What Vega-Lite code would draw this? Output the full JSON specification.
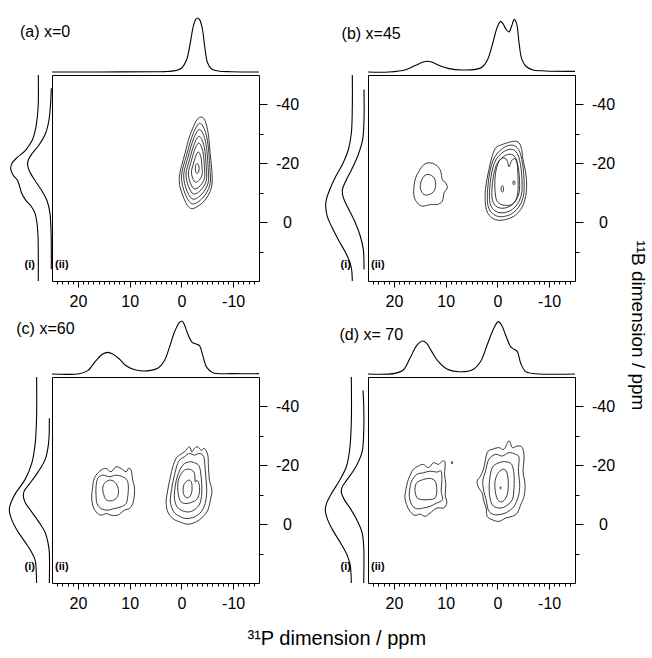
{
"$schema": "https://vega.github.io/schema/vega-lite/v6.json",
"background": "white",
"padding": {"left": 6, "top": 15, "right": 0, "bottom": 0},
"config": {
  "font": "Liberation Sans",
  "view": {"stroke": "black", "strokeWidth": 1},
  "axis": {"labelFont": "Liberation Sans", "labelFontSize": 16, "labelColor": "black", "tickColor": "black", "tickWidth": 1, "grid": false, "domain": false, "labelFlush": false, "labelOverlap": false}
},
"title": {"text": "³¹P dimension / ppm", "orient": "bottom", "offset": 17, "dx": 10, "fontSize": 20, "fontWeight": "normal", "font": "Liberation Sans", "color": "black", "anchor": "middle"},
"datasets": {
"ca": [
{"c":1,"x":-3.72,"y":-35.7},{"c":1,"x":-4.55,"y":-34.6},{"c":1,"x":-5.19,"y":-30.1},{"c":1,"x":-5.51,"y":-24.4},{"c":1,"x":-5.83,"y":-18.7},{"c":1,"x":-5.96,"y":-14.8},{"c":1,"x":-5.83,"y":-11.9},{"c":1,"x":-5.19,"y":-9.1},{"c":1,"x":-4.23,"y":-6.85},{"c":1,"x":-2.95,"y":-5.15},{"c":1,"x":-1.98,"y":-4.6},{"c":1,"x":-1.15,"y":-5.7},{"c":1,"x":-0.38,"y":-8.55},{"c":1,"x":0.26,"y":-11.95},{"c":1,"x":0.39,"y":-15.35},{"c":1,"x":-0.06,"y":-19.3},{"c":1,"x":-0.7,"y":-23.3},{"c":1,"x":-1.34,"y":-27.8},{"c":1,"x":-2.18,"y":-31.8},{"c":1,"x":-2.95,"y":-34.6},
{"c":2,"x":-3.65,"y":-33.58},{"c":2,"x":-4.94,"y":-28.65},{"c":2,"x":-5.5,"y":-18.62},{"c":2,"x":-5.5,"y":-12.63},{"c":2,"x":-4.09,"y":-8.19},{"c":2,"x":-2.11,"y":-6.21},{"c":2,"x":-0.71,"y":-9.68},{"c":2,"x":-0.03,"y":-15.67},{"c":2,"x":-0.99,"y":-22.66},{"c":2,"x":-2.29,"y":-30.14},
{"c":3,"x":-3.57,"y":-31.45},{"c":3,"x":-4.69,"y":-27.2},{"c":3,"x":-5.17,"y":-18.53},{"c":3,"x":-5.17,"y":-13.36},{"c":3,"x":-3.96,"y":-9.53},{"c":3,"x":-2.25,"y":-7.82},{"c":3,"x":-1.03,"y":-10.82},{"c":3,"x":-0.45,"y":-15.99},{"c":3,"x":-1.28,"y":-22.03},{"c":3,"x":-2.4,"y":-28.49},
{"c":4,"x":-3.49,"y":-29.15},{"c":4,"x":-4.42,"y":-25.62},{"c":4,"x":-4.82,"y":-18.44},{"c":4,"x":-4.82,"y":-14.16},{"c":4,"x":-3.81,"y":-10.98},{"c":4,"x":-2.39,"y":-9.56},{"c":4,"x":-1.39,"y":-12.05},{"c":4,"x":-0.9,"y":-16.33},{"c":4,"x":-1.59,"y":-21.34},{"c":4,"x":-2.52,"y":-26.69},
{"c":5,"x":-3.41,"y":-26.85},{"c":5,"x":-4.15,"y":-24.05},{"c":5,"x":-4.47,"y":-18.35},{"c":5,"x":-4.47,"y":-14.95},{"c":5,"x":-3.67,"y":-12.43},{"c":5,"x":-2.54,"y":-11.3},{"c":5,"x":-1.74,"y":-13.28},{"c":5,"x":-1.36,"y":-16.68},{"c":5,"x":-1.9,"y":-20.65},{"c":5,"x":-2.64,"y":-24.9},
{"c":6,"x":-3.3,"y":-23.84},{"c":6,"x":-3.79,"y":-21.99},{"c":6,"x":-4.0,"y":-18.23},{"c":6,"x":-4.0,"y":-15.99},{"c":6,"x":-3.47,"y":-14.32},{"c":6,"x":-2.73,"y":-13.58},{"c":6,"x":-2.2,"y":-14.88},{"c":6,"x":-1.95,"y":-17.13},{"c":6,"x":-2.31,"y":-19.75},{"c":6,"x":-2.8,"y":-22.55},
{"c":7,"x":-3.05,"y":-19.9},{"c":7,"x":-3.38,"y":-19.05},{"c":7,"x":-3.38,"y":-17.35},{"c":7,"x":-3.05,"y":-16.5},{"c":7,"x":-2.72,"y":-17.35},{"c":7,"x":-2.72,"y":-19.05}
],
"cb": [
{"c":1,"x":14.18,"y":-19.59},{"c":1,"x":12.89,"y":-20.15},{"c":1,"x":11.6,"y":-19.02},{"c":1,"x":10.96,"y":-17.32},{"c":1,"x":10.64,"y":-14.49},{"c":1,"x":9.99,"y":-13.36},{"c":1,"x":9.67,"y":-11.66},{"c":1,"x":10.31,"y":-9.96},{"c":1,"x":10.64,"y":-7.13},{"c":1,"x":11.6,"y":-6.0},{"c":1,"x":12.89,"y":-6.0},{"c":1,"x":14.5,"y":-5.43},{"c":1,"x":15.47,"y":-6.56},{"c":1,"x":16.11,"y":-8.83},{"c":1,"x":16.11,"y":-12.23},{"c":1,"x":15.79,"y":-15.06},{"c":1,"x":15.15,"y":-17.32},
{"c":2,"x":14.18,"y":-15.62},{"c":2,"x":13.21,"y":-16.19},{"c":2,"x":12.25,"y":-15.06},{"c":2,"x":11.92,"y":-12.79},{"c":2,"x":12.25,"y":-10.53},{"c":2,"x":13.21,"y":-9.39},{"c":2,"x":14.18,"y":-9.39},{"c":2,"x":14.82,"y":-11.09},{"c":2,"x":14.82,"y":-13.36},
{"c":3,"x":0.33,"y":-25.25},{"c":3,"x":-0.96,"y":-26.38},{"c":3,"x":-1.92,"y":-26.95},{"c":3,"x":-3.21,"y":-27.52},{"c":3,"x":-4.18,"y":-26.95},{"c":3,"x":-4.69,"y":-24.68},{"c":3,"x":-4.95,"y":-21.29},{"c":3,"x":-5.47,"y":-16.76},{"c":3,"x":-5.66,"y":-12.23},{"c":3,"x":-5.34,"y":-7.7},{"c":3,"x":-4.5,"y":-4.3},{"c":3,"x":-3.21,"y":-2.03},{"c":3,"x":-1.6,"y":-0.9},{"c":3,"x":0.01,"y":-0.67},{"c":3,"x":1.3,"y":-1.8},{"c":3,"x":2.13,"y":-4.3},{"c":3,"x":2.39,"y":-8.83},{"c":3,"x":2.13,"y":-13.36},{"c":3,"x":1.62,"y":-17.89},{"c":3,"x":1.1,"y":-21.85},
{"c":4,"x":-1.02,"y":-25.09},{"c":4,"x":-3.05,"y":-26.12},{"c":4,"x":-4.38,"y":-23.56},{"c":4,"x":-5.08,"y":-16.43},{"c":4,"x":-4.97,"y":-8.28},{"c":4,"x":-3.05,"y":-3.18},{"c":4,"x":-0.15,"y":-1.95},{"c":4,"x":1.76,"y":-5.22},{"c":4,"x":1.76,"y":-13.37},{"c":4,"x":0.83,"y":-21.02},
{"c":5,"x":-1.09,"y":-23.8},{"c":5,"x":-2.89,"y":-24.72},{"c":5,"x":-4.07,"y":-22.44},{"c":5,"x":-4.7,"y":-16.11},{"c":5,"x":-4.59,"y":-8.86},{"c":5,"x":-2.89,"y":-4.32},{"c":5,"x":-0.31,"y":-3.24},{"c":5,"x":1.38,"y":-6.14},{"c":5,"x":1.38,"y":-13.39},{"c":5,"x":0.56,"y":-20.18},
{"c":6,"x":-1.17,"y":-22.26},{"c":6,"x":-2.69,"y":-23.03},{"c":6,"x":-3.7,"y":-21.1},{"c":6,"x":-4.23,"y":-15.72},{"c":6,"x":-4.14,"y":-9.56},{"c":6,"x":-2.69,"y":-5.7},{"c":6,"x":-0.51,"y":-4.78},{"c":6,"x":0.94,"y":-7.24},{"c":6,"x":0.94,"y":-13.4},{"c":6,"x":0.24,"y":-19.18},
{"c":7,"x":-0.31,"y":-20.72},{"c":7,"x":-1.28,"y":-21.85},{"c":7,"x":-1.92,"y":-20.72},{"c":7,"x":-2.25,"y":-18.79},{"c":7,"x":-2.7,"y":-20.72},{"c":7,"x":-3.34,"y":-21.6},{"c":7,"x":-3.8,"y":-20.0},{"c":7,"x":-3.95,"y":-16.76},{"c":7,"x":-4.0,"y":-11.09},{"c":7,"x":-3.6,"y":-7.6},{"c":7,"x":-2.8,"y":-6.0},{"c":7,"x":-1.6,"y":-5.7},{"c":7,"x":-0.4,"y":-6.3},{"c":7,"x":0.25,"y":-8.0},{"c":7,"x":0.5,"y":-12.23},{"c":7,"x":0.35,"y":-16.76},
{"c":8,"x":-0.96,"y":-12.4},{"c":8,"x":-1.18,"y":-11.85},{"c":8,"x":-1.18,"y":-10.75},{"c":8,"x":-0.96,"y":-10.2},{"c":8,"x":-0.74,"y":-10.75},{"c":8,"x":-0.74,"y":-11.85},
{"c":9,"x":-3.2,"y":-14.1},{"c":9,"x":-3.37,"y":-13.75},{"c":9,"x":-3.37,"y":-13.05},{"c":9,"x":-3.2,"y":-12.7},{"c":9,"x":-3.03,"y":-13.05},{"c":9,"x":-3.03,"y":-13.75}
],
"cc": [
{"c":1,"x":16.49,"y":-16.65},{"c":1,"x":15.53,"y":-18.35},{"c":1,"x":14.56,"y":-18.92},{"c":1,"x":13.59,"y":-17.79},{"c":1,"x":12.63,"y":-19.49},{"c":1,"x":11.66,"y":-18.92},{"c":1,"x":10.69,"y":-17.79},{"c":1,"x":10.24,"y":-18.92},{"c":1,"x":9.72,"y":-18.35},{"c":1,"x":9.4,"y":-14.95},{"c":1,"x":9.08,"y":-12.68},{"c":1,"x":9.08,"y":-9.85},{"c":1,"x":9.4,"y":-7.01},{"c":1,"x":10.05,"y":-5.31},{"c":1,"x":11.01,"y":-4.75},{"c":1,"x":12.3,"y":-3.05},{"c":1,"x":13.59,"y":-3.05},{"c":1,"x":14.56,"y":-3.61},{"c":1,"x":15.53,"y":-3.05},{"c":1,"x":16.49,"y":-4.18},{"c":1,"x":17.14,"y":-6.45},{"c":1,"x":17.33,"y":-9.28},{"c":1,"x":17.14,"y":-12.68},{"c":1,"x":16.94,"y":-14.95},
{"c":2,"x":16.17,"y":-15.52},{"c":2,"x":15.2,"y":-16.65},{"c":2,"x":13.91,"y":-16.09},{"c":2,"x":12.63,"y":-16.65},{"c":2,"x":11.34,"y":-16.09},{"c":2,"x":10.5,"y":-14.95},{"c":2,"x":10.24,"y":-12.68},{"c":2,"x":10.37,"y":-9.28},{"c":2,"x":10.69,"y":-7.01},{"c":2,"x":11.66,"y":-5.88},{"c":2,"x":12.95,"y":-5.31},{"c":2,"x":14.24,"y":-4.75},{"c":2,"x":15.53,"y":-5.31},{"c":2,"x":16.3,"y":-7.01},{"c":2,"x":16.49,"y":-9.85},{"c":2,"x":16.49,"y":-12.68},
{"c":3,"x":14.88,"y":-13.82},{"c":3,"x":13.91,"y":-14.95},{"c":3,"x":12.95,"y":-14.38},{"c":3,"x":12.3,"y":-12.68},{"c":3,"x":12.17,"y":-10.42},{"c":3,"x":12.63,"y":-8.72},{"c":3,"x":13.59,"y":-7.92},{"c":3,"x":14.56,"y":-8.37},{"c":3,"x":15.07,"y":-10.42},{"c":3,"x":15.2,"y":-12.12},
{"c":4,"x":0.37,"y":-23.45},{"c":4,"x":-0.59,"y":-24.59},{"c":4,"x":-1.56,"y":-26.29},{"c":4,"x":-2.01,"y":-24.59},{"c":4,"x":-2.53,"y":-25.72},{"c":4,"x":-3.17,"y":-26.29},{"c":4,"x":-3.82,"y":-25.15},{"c":4,"x":-4.46,"y":-25.72},{"c":4,"x":-5.11,"y":-23.45},{"c":4,"x":-5.23,"y":-19.49},{"c":4,"x":-5.43,"y":-14.95},{"c":4,"x":-5.9,"y":-11.55},{"c":4,"x":-5.6,"y":-8.15},{"c":4,"x":-5.11,"y":-4.75},{"c":4,"x":-4.14,"y":-2.48},{"c":4,"x":-2.85,"y":-0.78},{"c":4,"x":-1.24,"y":0.02},{"c":4,"x":0.37,"y":-0.78},{"c":4,"x":1.66,"y":-1.91},{"c":4,"x":2.63,"y":-4.18},{"c":4,"x":2.95,"y":-7.58},{"c":4,"x":2.63,"y":-11.55},{"c":4,"x":2.12,"y":-16.09},{"c":4,"x":1.66,"y":-19.49},{"c":4,"x":1.02,"y":-22.32},
{"c":5,"x":0.37,"y":-21.75},{"c":5,"x":-0.59,"y":-22.89},{"c":5,"x":-1.56,"y":-24.02},{"c":5,"x":-2.53,"y":-23.45},{"c":5,"x":-3.49,"y":-24.02},{"c":5,"x":-4.33,"y":-22.89},{"c":5,"x":-4.59,"y":-18.92},{"c":5,"x":-4.78,"y":-14.95},{"c":5,"x":-4.9,"y":-10.98},{"c":5,"x":-4.6,"y":-7.01},{"c":5,"x":-3.82,"y":-4.18},{"c":5,"x":-2.53,"y":-2.48},{"c":5,"x":-0.91,"y":-1.91},{"c":5,"x":0.37,"y":-2.71},{"c":5,"x":1.47,"y":-4.18},{"c":5,"x":2.12,"y":-7.58},{"c":5,"x":1.86,"y":-12.12},{"c":5,"x":1.34,"y":-16.65},{"c":5,"x":0.83,"y":-20.05},
{"c":6,"x":-0.27,"y":-20.05},{"c":6,"x":-1.56,"y":-21.19},{"c":6,"x":-2.85,"y":-20.62},{"c":6,"x":-3.49,"y":-19.49},{"c":6,"x":-3.82,"y":-16.09},{"c":6,"x":-3.95,"y":-11.55},{"c":6,"x":-3.69,"y":-7.58},{"c":6,"x":-2.85,"y":-5.31},{"c":6,"x":-1.56,"y":-4.18},{"c":6,"x":-0.27,"y":-4.52},{"c":6,"x":0.83,"y":-5.88},{"c":6,"x":1.34,"y":-8.72},{"c":6,"x":1.21,"y":-12.68},{"c":6,"x":0.7,"y":-16.65},
{"c":7,"x":0.37,"y":-16.09},{"c":7,"x":-0.59,"y":-18.35},{"c":7,"x":-1.75,"y":-18.58},{"c":7,"x":-2.53,"y":-17.22},{"c":7,"x":-2.66,"y":-14.38},{"c":7,"x":-3.0,"y":-14.9},{"c":7,"x":-3.4,"y":-13.8},{"c":7,"x":-3.5,"y":-11.0},{"c":7,"x":-3.1,"y":-8.72},{"c":7,"x":-2.2,"y":-7.58},{"c":7,"x":-0.91,"y":-7.01},{"c":7,"x":0.05,"y":-7.58},{"c":7,"x":0.57,"y":-9.85},{"c":7,"x":0.7,"y":-13.25},
{"c":8,"x":-0.91,"y":-14.38},{"c":8,"x":-1.56,"y":-14.95},{"c":8,"x":-2.01,"y":-13.82},{"c":8,"x":-2.01,"y":-10.98},{"c":8,"x":-1.56,"y":-9.28},{"c":8,"x":-0.91,"y":-9.06},{"c":8,"x":-0.4,"y":-10.42},{"c":8,"x":-0.4,"y":-12.91}
],
"cd": [
{"c":1,"x":17.21,"y":-15.17},{"c":1,"x":16.24,"y":-18.59},{"c":1,"x":15.27,"y":-19.73},{"c":1,"x":14.3,"y":-20.3},{"c":1,"x":13.32,"y":-19.16},{"c":1,"x":12.35,"y":-20.87},{"c":1,"x":11.38,"y":-20.3},{"c":1,"x":10.6,"y":-21.44},{"c":1,"x":10.08,"y":-20.87},{"c":1,"x":10.21,"y":-16.88},{"c":1,"x":9.95,"y":-13.47},{"c":1,"x":10.08,"y":-10.05},{"c":1,"x":9.76,"y":-7.2},{"c":1,"x":10.41,"y":-5.49},{"c":1,"x":11.7,"y":-5.49},{"c":1,"x":13.0,"y":-3.78},{"c":1,"x":13.97,"y":-2.64},{"c":1,"x":14.94,"y":-3.44},{"c":1,"x":15.92,"y":-2.98},{"c":1,"x":16.89,"y":-4.35},{"c":1,"x":17.54,"y":-6.63},{"c":1,"x":17.86,"y":-8.91},{"c":1,"x":17.73,"y":-11.19},
{"c":2,"x":16.57,"y":-14.61},{"c":2,"x":15.59,"y":-16.88},{"c":2,"x":14.3,"y":-17.45},{"c":2,"x":13.0,"y":-18.02},{"c":2,"x":11.7,"y":-17.68},{"c":2,"x":10.86,"y":-18.02},{"c":2,"x":10.73,"y":-14.61},{"c":2,"x":10.86,"y":-11.19},{"c":2,"x":10.6,"y":-8.34},{"c":2,"x":11.7,"y":-7.2},{"c":2,"x":13.0,"y":-6.06},{"c":2,"x":14.3,"y":-5.49},{"c":2,"x":15.59,"y":-5.26},{"c":2,"x":16.57,"y":-6.63},{"c":2,"x":17.02,"y":-9.48},{"c":2,"x":16.89,"y":-12.33},
{"c":3,"x":15.59,"y":-14.04},{"c":3,"x":14.3,"y":-15.17},{"c":3,"x":13.0,"y":-15.52},{"c":3,"x":12.03,"y":-14.61},{"c":3,"x":11.7,"y":-11.76},{"c":3,"x":12.03,"y":-8.91},{"c":3,"x":13.32,"y":-8.34},{"c":3,"x":14.62,"y":-8.34},{"c":3,"x":15.59,"y":-9.14},{"c":3,"x":15.92,"y":-11.76},
{"c":4,"x":8.78,"y":-21.35},{"c":4,"x":8.66,"y":-20.87},{"c":4,"x":8.78,"y":-20.4},{"c":4,"x":8.9,"y":-20.87},
{"c":5,"x":1.97,"y":-24.29},{"c":5,"x":1.0,"y":-25.43},{"c":5,"x":-0.3,"y":-26.0},{"c":5,"x":-1.27,"y":-25.43},{"c":5,"x":-2.24,"y":-28.3},{"c":5,"x":-2.89,"y":-26.0},{"c":5,"x":-3.86,"y":-26.57},{"c":5,"x":-4.83,"y":-26.0},{"c":5,"x":-5.16,"y":-22.58},{"c":5,"x":-4.96,"y":-18.02},{"c":5,"x":-5.35,"y":-13.47},{"c":5,"x":-5.16,"y":-9.48},{"c":5,"x":-4.51,"y":-6.63},{"c":5,"x":-3.86,"y":-3.78},{"c":5,"x":-2.89,"y":-2.64},{"c":5,"x":-1.59,"y":-2.07},{"c":5,"x":-0.3,"y":-0.93},{"c":5,"x":1.0,"y":-1.5},{"c":5,"x":1.97,"y":-2.64},{"c":5,"x":2.17,"y":-5.49},{"c":5,"x":2.62,"y":-7.77},{"c":5,"x":2.95,"y":-10.62},{"c":5,"x":3.6,"y":-12.33},{"c":5,"x":3.92,"y":-14.61},{"c":5,"x":3.27,"y":-16.31},{"c":5,"x":2.62,"y":-19.16},
{"c":6,"x":1.65,"y":-22.01},{"c":6,"x":0.35,"y":-23.72},{"c":6,"x":-0.94,"y":-23.15},{"c":6,"x":-2.24,"y":-24.29},{"c":6,"x":-3.54,"y":-23.72},{"c":6,"x":-4.19,"y":-22.58},{"c":6,"x":-4.06,"y":-18.02},{"c":6,"x":-4.32,"y":-13.47},{"c":6,"x":-4.06,"y":-9.48},{"c":6,"x":-3.21,"y":-6.06},{"c":6,"x":-1.92,"y":-4.12},{"c":6,"x":-0.3,"y":-3.21},{"c":6,"x":1.0,"y":-3.44},{"c":6,"x":1.78,"y":-4.92},{"c":6,"x":2.17,"y":-8.34},{"c":6,"x":2.62,"y":-11.19},{"c":6,"x":2.82,"y":-14.61},{"c":6,"x":2.3,"y":-18.02},
{"c":7,"x":1.0,"y":-19.16},{"c":7,"x":-0.3,"y":-20.87},{"c":7,"x":-1.59,"y":-21.21},{"c":7,"x":-2.76,"y":-20.3},{"c":7,"x":-3.21,"y":-16.88},{"c":7,"x":-3.21,"y":-12.33},{"c":7,"x":-2.89,"y":-8.34},{"c":7,"x":-1.59,"y":-6.06},{"c":7,"x":-0.17,"y":-5.49},{"c":7,"x":1.0,"y":-6.63},{"c":7,"x":1.52,"y":-10.05},{"c":7,"x":1.52,"y":-14.61},
{"c":8,"x":0.03,"y":-16.88},{"c":8,"x":-0.94,"y":-18.59},{"c":8,"x":-1.72,"y":-18.02},{"c":8,"x":-2.11,"y":-14.61},{"c":8,"x":-1.92,"y":-10.05},{"c":8,"x":-1.07,"y":-7.77},{"c":8,"x":-0.17,"y":-8.0},{"c":8,"x":0.35,"y":-10.62},{"c":8,"x":0.48,"y":-14.04},
{"c":9,"x":-0.62,"y":-12.7},{"c":9,"x":-0.75,"y":-12.33},{"c":9,"x":-0.62,"y":-11.96},{"c":9,"x":-0.49,"y":-12.33}
],
"ta": [{"x":25,"v":0},{"x":16,"v":0},{"x":5.06,"v":0.5},{"x":3.14,"v":0.7},{"x":1.2,"v":2.6},{"x":-0.06,"v":7.4},{"x":-1.02,"v":23},{"x":-1.67,"v":51},{"x":-2.31,"v":85},{"x":-2.75,"v":97},{"x":-3.14,"v":100},{"x":-3.52,"v":97},{"x":-4.04,"v":81},{"x":-4.55,"v":44},{"x":-5.06,"v":17},{"x":-5.83,"v":5.6},{"x":-7.1,"v":1.9},{"x":-9.7,"v":0.5},{"x":-15,"v":0}],
"tb": [{"x":25,"v":0},{"x":20.95,"v":0},{"x":17.7,"v":4.3},{"x":15.8,"v":12.3},{"x":14.5,"v":17.9},{"x":13.5,"v":19.8},{"x":12.6,"v":17.9},{"x":11.3,"v":12.3},{"x":9.35,"v":6.2},{"x":6.8,"v":3.7},{"x":4.2,"v":4.9},{"x":2.9,"v":9.3},{"x":1.95,"v":21.6},{"x":1.0,"v":49.4},{"x":0.01,"v":83.3},{"x":-0.63,"v":93.8},{"x":-1.08,"v":89.5},{"x":-1.6,"v":80.2},{"x":-2.24,"v":74.1},{"x":-2.76,"v":85.2},{"x":-3.27,"v":97.5},{"x":-3.72,"v":89.5},{"x":-4.17,"v":55.6},{"x":-4.69,"v":24.7},{"x":-5.46,"v":11.1},{"x":-6.75,"v":4.3},{"x":-9.33,"v":1.9},{"x":-15,"v":1.2}],
"tc": [{"x":25,"v":0},{"x":19.72,"v":0.6},{"x":18.1,"v":6.2},{"x":16.5,"v":24.7},{"x":15.2,"v":37},{"x":14.24,"v":40.1},{"x":13.27,"v":37},{"x":11.98,"v":27.8},{"x":10.69,"v":15.4},{"x":8.76,"v":7.4},{"x":6.18,"v":6.2},{"x":4.56,"v":10.5},{"x":3.28,"v":24.7},{"x":2.31,"v":49.4},{"x":1.34,"v":77.2},{"x":0.37,"v":95.7},{"x":-0.14,"v":97.5},{"x":-0.66,"v":89.5},{"x":-1.24,"v":74.1},{"x":-2.08,"v":58.6},{"x":-2.85,"v":55.6},{"x":-3.5,"v":52.5},{"x":-4.14,"v":34},{"x":-4.91,"v":12.3},{"x":-6.07,"v":2.5},{"x":-9.94,"v":0.6},{"x":-15,"v":0.6}],
"td": [{"x":25,"v":0},{"x":19.81,"v":1.2},{"x":18.19,"v":7.4},{"x":16.89,"v":29},{"x":15.6,"v":52.5},{"x":14.49,"v":61.1},{"x":13.65,"v":56.8},{"x":12.68,"v":41.4},{"x":11.38,"v":22.8},{"x":9.76,"v":9.3},{"x":7.49,"v":4.3},{"x":4.89,"v":7.4},{"x":3.27,"v":22.8},{"x":1.98,"v":53.7},{"x":0.68,"v":84.6},{"x":-0.16,"v":96.9},{"x":-0.81,"v":90.7},{"x":-1.59,"v":72.2},{"x":-2.56,"v":50.6},{"x":-3.21,"v":45.7},{"x":-3.86,"v":41.4},{"x":-4.51,"v":19.8},{"x":-5.48,"v":4.3},{"x":-7.43,"v":0.6},{"x":-15,"v":0}],
"la": [
{"s":"i","y":-50,"v":0},{"s":"i","y":-40.4,"v":0},{"s":"i","y":-35.8,"v":3.2},{"s":"i","y":-31.9,"v":8.8},{"s":"i","y":-27.9,"v":19.9},{"s":"i","y":-24.5,"v":42.1},{"s":"i","y":-22,"v":69.9},{"s":"i","y":-20.2,"v":86.6},{"s":"i","y":-18.3,"v":92.1},{"s":"i","y":-16,"v":84.3},{"s":"i","y":-14.3,"v":69.9},{"s":"i","y":-12.1,"v":62.1},{"s":"i","y":-9.8,"v":55.4},{"s":"i","y":-7.5,"v":42.1},{"s":"i","y":-5.3,"v":23.2},{"s":"i","y":-3,"v":11},{"s":"i","y":0.4,"v":4.3},{"s":"i","y":4.9,"v":1},{"s":"i","y":11.7,"v":0},{"s":"i","y":20,"v":0},
{"s":"ii","y":-45.5,"v":0},{"s":"ii","y":-40.4,"v":2.7},{"s":"ii","y":-34.7,"v":9.3},{"s":"ii","y":-30.2,"v":22.7},{"s":"ii","y":-26.2,"v":49.3},{"s":"ii","y":-23.4,"v":76},{"s":"ii","y":-21.1,"v":92},{"s":"ii","y":-19.4,"v":94.7},{"s":"ii","y":-17.2,"v":86.7},{"s":"ii","y":-13.8,"v":62.7},{"s":"ii","y":-10.4,"v":36},{"s":"ii","y":-7,"v":16},{"s":"ii","y":-3,"v":5.3},{"s":"ii","y":2.7,"v":1.3},{"s":"ii","y":8,"v":0},{"s":"ii","y":16,"v":0}
],
"lb": [
{"s":"i","y":-50,"v":0},{"s":"i","y":-39,"v":0},{"s":"i","y":-30.2,"v":3.2},{"s":"i","y":-24.6,"v":13.2},{"s":"i","y":-20,"v":31},{"s":"i","y":-15.5,"v":55.4},{"s":"i","y":-11,"v":75.4},{"s":"i","y":-7.6,"v":86.6},{"s":"i","y":-5.3,"v":88.8},{"s":"i","y":-1.9,"v":83.2},{"s":"i","y":1.5,"v":68.9},{"s":"i","y":6,"v":46.6},{"s":"i","y":10,"v":24.3},{"s":"i","y":13.4,"v":8.8},{"s":"i","y":16.2,"v":2.2},{"s":"i","y":20,"v":0},
{"s":"ii","y":-45.1,"v":0},{"s":"ii","y":-34.9,"v":0},{"s":"ii","y":-28.1,"v":5.3},{"s":"ii","y":-23,"v":22.7},{"s":"ii","y":-17.9,"v":49.3},{"s":"ii","y":-13.9,"v":73.3},{"s":"ii","y":-10.9,"v":86.7},{"s":"ii","y":-8.3,"v":82.7},{"s":"ii","y":-4.9,"v":64},{"s":"ii","y":-0.3,"v":37.3},{"s":"ii","y":4.8,"v":14.7},{"s":"ii","y":9.3,"v":2.7},{"s":"ii","y":13.8,"v":0},{"s":"ii","y":16.1,"v":0}
],
"lc": [
{"s":"i","y":-50,"v":0},{"s":"i","y":-36.8,"v":0},{"s":"i","y":-27.7,"v":4.4},{"s":"i","y":-20.9,"v":15.5},{"s":"i","y":-15.3,"v":37.7},{"s":"i","y":-10.7,"v":68.9},{"s":"i","y":-7.3,"v":85.5},{"s":"i","y":-5,"v":91.1},{"s":"i","y":-2.2,"v":85.5},{"s":"i","y":1.8,"v":66.7},{"s":"i","y":5.7,"v":41.1},{"s":"i","y":9.1,"v":18.9},{"s":"i","y":12,"v":5.6},{"s":"i","y":14.2,"v":2.2},{"s":"i","y":16.5,"v":1.1},{"s":"i","y":20,"v":0},
{"s":"ii","y":-36,"v":0},{"s":"ii","y":-27.7,"v":2.7},{"s":"ii","y":-22.1,"v":16},{"s":"ii","y":-17.5,"v":46.7},{"s":"ii","y":-13.6,"v":80},{"s":"ii","y":-11.3,"v":100},{"s":"ii","y":-9.6,"v":104},{"s":"ii","y":-7.3,"v":96},{"s":"ii","y":-4.5,"v":73.3},{"s":"ii","y":-0.5,"v":40},{"s":"ii","y":2.9,"v":16},{"s":"ii","y":6.3,"v":5.3},{"s":"ii","y":9.7,"v":0},{"s":"ii","y":20,"v":0}
],
"ld": [
{"s":"i","y":-50,"v":0},{"s":"i","y":-34.3,"v":0},{"s":"i","y":-25.2,"v":5.6},{"s":"i","y":-19.5,"v":16.6},{"s":"i","y":-14.9,"v":38.8},{"s":"i","y":-10.3,"v":66.6},{"s":"i","y":-6.9,"v":83.2},{"s":"i","y":-4.6,"v":86.6},{"s":"i","y":-1.8,"v":79.9},{"s":"i","y":2.2,"v":61},{"s":"i","y":6.8,"v":33.2},{"s":"i","y":10.7,"v":13.2},{"s":"i","y":14.2,"v":3.3},{"s":"i","y":18,"v":0.5},{"s":"i","y":20,"v":0},
{"s":"ii","y":-45.4,"v":2.7},{"s":"ii","y":-40.5,"v":0},{"s":"ii","y":-31.3,"v":0},{"s":"ii","y":-24.5,"v":6.7},{"s":"ii","y":-18.8,"v":36},{"s":"ii","y":-14.8,"v":69.4},{"s":"ii","y":-12.5,"v":86.7},{"s":"ii","y":-10.8,"v":89.4},{"s":"ii","y":-8.5,"v":78.7},{"s":"ii","y":-5.1,"v":52},{"s":"ii","y":-1.1,"v":25.4},{"s":"ii","y":2.8,"v":6.7},{"s":"ii","y":7.4,"v":0},{"s":"ii","y":20,"v":0}
]
},
"vconcat": [{
"title": {"text": "¹¹B dimension / ppm", "orient": "right", "offset": 13, "dx": 12, "fontSize": 19, "fontWeight": "normal", "font": "Liberation Sans", "color": "black", "anchor": "middle"},
"columns": 2,
"spacing": {"column": 22, "row": 8},
"concat": [
{
"width": 207, "height": 206,
"resolve": {"scale": {"x": "independent", "y": "independent"}, "axis": {"x": "independent", "y": "independent"}},
"layer": [
{"data": {"name": "ca"}, "mark": {"type": "point", "opacity": 0},
 "encoding": {
  "x": {"field": "x", "type": "quantitative", "scale": {"domain": [-15, 25], "reverse": true, "nice": false, "zero": false}, "axis": {"orient": "bottom", "values": [24,23,22,21,20,19,18,17,16,15,14,13,12,11,10,9,8,7,6,5,4,3,2,1,0,-1,-2,-3,-4,-5,-6,-7,-8,-9,-10,-11,-12,-13,-14], "tickSize": 3, "labels": false, "domain": false, "grid": false, "title": null}},
  "y": {"field": "y", "type": "quantitative", "scale": {"domain": [-50, 20], "reverse": true, "nice": false, "zero": false}, "axis": {"orient": "right", "values": [-30, -10, 10], "tickSize": 4, "labels": false, "domain": false, "grid": false, "title": null}}}},
{"layer": [
 {"data": {"name": "ca"}, "transform": [{"window": [{"op": "row_number", "as": "o"}]}],
  "mark": {"type": "line", "interpolate": "cardinal-closed", "color": "#222", "strokeWidth": 0.9},
  "encoding": {
   "x": {"field": "x", "type": "quantitative", "scale": {"domain": [-15, 25], "reverse": true, "nice": false, "zero": false}, "axis": {"orient": "bottom", "values": [20, 10, 0, -10], "tickSize": 6, "labelPadding": 6, "domain": false, "grid": false, "title": null, "labelExpr": "datum.value < 0 ? '-' + (-datum.value) : '' + datum.value"}},
   "y": {"field": "y", "type": "quantitative", "scale": {"domain": [-50, 20], "reverse": true, "nice": false, "zero": false}, "axis": {"orient": "right", "values": [-40, -20, 0], "tickSize": 8, "labelPadding": 20, "labelAlign": "center", "domain": false, "grid": false, "title": null, "labelExpr": "datum.value < 0 ? '-' + (-datum.value) : '' + datum.value"}},
   "detail": {"field": "c", "type": "nominal"},
   "order": {"field": "o", "type": "quantitative"}}},
 {"data": {"values": [{}]}, "mark": {"type": "text", "text": "(a) x=0", "align": "left", "baseline": "middle", "fontSize": 16, "color": "black"},
  "encoding": {"x": {"datum": 31.2, "type": "quantitative", "scale": {"domain": [-15, 25], "reverse": true, "nice": false, "zero": false}}, "y": {"datum": -64.6, "type": "quantitative", "scale": {"domain": [-50, 20], "reverse": true, "nice": false, "zero": false}}}},
 {"data": {"values": [{}]}, "mark": {"type": "text", "text": "(i)", "align": "center", "baseline": "middle", "fontSize": 11, "fontWeight": "bold", "color": "black"},
  "encoding": {"x": {"datum": 29.3, "type": "quantitative", "scale": {"domain": [-15, 25], "reverse": true, "nice": false, "zero": false}}, "y": {"datum": 14.5, "type": "quantitative", "scale": {"domain": [-50, 20], "reverse": true, "nice": false, "zero": false}}}},
 {"data": {"values": [{}]}, "mark": {"type": "text", "text": "(ii)", "align": "center", "baseline": "middle", "fontSize": 11, "fontWeight": "bold", "color": "black"},
  "encoding": {"x": {"datum": 23.1, "type": "quantitative", "scale": {"domain": [-15, 25], "reverse": true, "nice": false, "zero": false}}, "y": {"datum": 14.5, "type": "quantitative", "scale": {"domain": [-50, 20], "reverse": true, "nice": false, "zero": false}}}}
]},
{"data": {"name": "ta"}, "transform": [{"window": [{"op": "row_number", "as": "o"}]}],
 "mark": {"type": "line", "interpolate": "catmull-rom", "color": "black", "strokeWidth": 1.1},
 "encoding": {"x": {"field": "x", "type": "quantitative", "scale": {"domain": [-15, 25], "reverse": true, "nice": false, "zero": false}, "axis": null}, "y": {"field": "v", "type": "quantitative", "scale": {"domain": [-387, -5.56], "nice": false, "zero": false}, "axis": null}, "order": {"field": "o", "type": "quantitative"}}},
{"data": {"name": "la"}, "transform": [{"filter": "datum.s === 'i'"}, {"window": [{"op": "row_number", "as": "o"}]}],
 "mark": {"type": "line", "interpolate": "catmull-rom", "color": "black", "strokeWidth": 1.1},
 "encoding": {"x": {"field": "v", "type": "quantitative", "scale": {"domain": [-735.67, -45.67], "reverse": true, "nice": false, "zero": false}, "axis": null}, "y": {"field": "y", "type": "quantitative", "scale": {"domain": [-50, 20], "reverse": true, "nice": false, "zero": false}, "axis": null}, "order": {"field": "o", "type": "quantitative"}}},
{"data": {"name": "la"}, "transform": [{"filter": "datum.s === 'ii'"}, {"window": [{"op": "row_number", "as": "o"}]}],
 "mark": {"type": "line", "interpolate": "catmull-rom", "color": "black", "strokeWidth": 1.1},
 "encoding": {"x": {"field": "v", "type": "quantitative", "scale": {"domain": [-830.8, -2.8], "reverse": true, "nice": false, "zero": false}, "axis": null}, "y": {"field": "y", "type": "quantitative", "scale": {"domain": [-50, 20], "reverse": true, "nice": false, "zero": false}, "axis": null}, "order": {"field": "o", "type": "quantitative"}}}
]
},
{
"width": 207, "height": 206,
"resolve": {"scale": {"x": "independent", "y": "independent"}, "axis": {"x": "independent", "y": "independent"}},
"layer": [
{"data": {"name": "cb"}, "mark": {"type": "point", "opacity": 0},
 "encoding": {
  "x": {"field": "x", "type": "quantitative", "scale": {"domain": [-15, 25], "reverse": true, "nice": false, "zero": false}, "axis": {"orient": "bottom", "values": [24,23,22,21,20,19,18,17,16,15,14,13,12,11,10,9,8,7,6,5,4,3,2,1,0,-1,-2,-3,-4,-5,-6,-7,-8,-9,-10,-11,-12,-13,-14], "tickSize": 3, "labels": false, "domain": false, "grid": false, "title": null}},
  "y": {"field": "y", "type": "quantitative", "scale": {"domain": [-50, 20], "reverse": true, "nice": false, "zero": false}, "axis": {"orient": "right", "values": [-30, -10, 10], "tickSize": 4, "labels": false, "domain": false, "grid": false, "title": null}}}},
{"layer": [
 {"data": {"name": "cb"}, "transform": [{"window": [{"op": "row_number", "as": "o"}]}],
  "mark": {"type": "line", "interpolate": "cardinal-closed", "color": "#222", "strokeWidth": 0.9},
  "encoding": {
   "x": {"field": "x", "type": "quantitative", "scale": {"domain": [-15, 25], "reverse": true, "nice": false, "zero": false}, "axis": {"orient": "bottom", "values": [20, 10, 0, -10], "tickSize": 6, "labelPadding": 6, "domain": false, "grid": false, "title": null, "labelExpr": "datum.value < 0 ? '-' + (-datum.value) : '' + datum.value"}},
   "y": {"field": "y", "type": "quantitative", "scale": {"domain": [-50, 20], "reverse": true, "nice": false, "zero": false}, "axis": {"orient": "right", "values": [-40, -20, 0], "tickSize": 8, "labelPadding": 20, "labelAlign": "center", "domain": false, "grid": false, "title": null, "labelExpr": "datum.value < 0 ? '-' + (-datum.value) : '' + datum.value"}},
   "detail": {"field": "c", "type": "nominal"},
   "order": {"field": "o", "type": "quantitative"}}},
 {"data": {"values": [{}]}, "mark": {"type": "text", "text": "(b) x=45", "align": "left", "baseline": "middle", "fontSize": 16, "color": "black"},
  "encoding": {"x": {"datum": 30.1, "type": "quantitative", "scale": {"domain": [-15, 25], "reverse": true, "nice": false, "zero": false}}, "y": {"datum": -64.1, "type": "quantitative", "scale": {"domain": [-50, 20], "reverse": true, "nice": false, "zero": false}}}},
 {"data": {"values": [{}]}, "mark": {"type": "text", "text": "(i)", "align": "center", "baseline": "middle", "fontSize": 11, "fontWeight": "bold", "color": "black"},
  "encoding": {"x": {"datum": 29.3, "type": "quantitative", "scale": {"domain": [-15, 25], "reverse": true, "nice": false, "zero": false}}, "y": {"datum": 14.5, "type": "quantitative", "scale": {"domain": [-50, 20], "reverse": true, "nice": false, "zero": false}}}},
 {"data": {"values": [{}]}, "mark": {"type": "text", "text": "(ii)", "align": "center", "baseline": "middle", "fontSize": 11, "fontWeight": "bold", "color": "black"},
  "encoding": {"x": {"datum": 23.1, "type": "quantitative", "scale": {"domain": [-15, 25], "reverse": true, "nice": false, "zero": false}}, "y": {"datum": 14.5, "type": "quantitative", "scale": {"domain": [-50, 20], "reverse": true, "nice": false, "zero": false}}}}
]},
{"data": {"name": "tb"}, "transform": [{"window": [{"op": "row_number", "as": "o"}]}],
 "mark": {"type": "line", "interpolate": "catmull-rom", "color": "black", "strokeWidth": 1.1},
 "encoding": {"x": {"field": "x", "type": "quantitative", "scale": {"domain": [-15, 25], "reverse": true, "nice": false, "zero": false}, "axis": null}, "y": {"field": "v", "type": "quantitative", "scale": {"domain": [-387, -5.56], "nice": false, "zero": false}, "axis": null}, "order": {"field": "o", "type": "quantitative"}}},
{"data": {"name": "lb"}, "transform": [{"filter": "datum.s === 'i'"}, {"window": [{"op": "row_number", "as": "o"}]}],
 "mark": {"type": "line", "interpolate": "catmull-rom", "color": "black", "strokeWidth": 1.1},
 "encoding": {"x": {"field": "v", "type": "quantitative", "scale": {"domain": [-742.33, -52.33], "reverse": true, "nice": false, "zero": false}, "axis": null}, "y": {"field": "y", "type": "quantitative", "scale": {"domain": [-50, 20], "reverse": true, "nice": false, "zero": false}, "axis": null}, "order": {"field": "o", "type": "quantitative"}}},
{"data": {"name": "lb"}, "transform": [{"filter": "datum.s === 'ii'"}, {"window": [{"op": "row_number", "as": "o"}]}],
 "mark": {"type": "line", "interpolate": "catmull-rom", "color": "black", "strokeWidth": 1.1},
 "encoding": {"x": {"field": "v", "type": "quantitative", "scale": {"domain": [-844, -16], "reverse": true, "nice": false, "zero": false}, "axis": null}, "y": {"field": "y", "type": "quantitative", "scale": {"domain": [-50, 20], "reverse": true, "nice": false, "zero": false}, "axis": null}, "order": {"field": "o", "type": "quantitative"}}}
]
},
{
"width": 207, "height": 206,
"resolve": {"scale": {"x": "independent", "y": "independent"}, "axis": {"x": "independent", "y": "independent"}},
"layer": [
{"data": {"name": "cc"}, "mark": {"type": "point", "opacity": 0},
 "encoding": {
  "x": {"field": "x", "type": "quantitative", "scale": {"domain": [-15, 25], "reverse": true, "nice": false, "zero": false}, "axis": {"orient": "bottom", "values": [24,23,22,21,20,19,18,17,16,15,14,13,12,11,10,9,8,7,6,5,4,3,2,1,0,-1,-2,-3,-4,-5,-6,-7,-8,-9,-10,-11,-12,-13,-14], "tickSize": 3, "labels": false, "domain": false, "grid": false, "title": null}},
  "y": {"field": "y", "type": "quantitative", "scale": {"domain": [-50, 20], "reverse": true, "nice": false, "zero": false}, "axis": {"orient": "right", "values": [-30, -10, 10], "tickSize": 4, "labels": false, "domain": false, "grid": false, "title": null}}}},
{"layer": [
 {"data": {"name": "cc"}, "transform": [{"window": [{"op": "row_number", "as": "o"}]}],
  "mark": {"type": "line", "interpolate": "cardinal-closed", "color": "#222", "strokeWidth": 0.9},
  "encoding": {
   "x": {"field": "x", "type": "quantitative", "scale": {"domain": [-15, 25], "reverse": true, "nice": false, "zero": false}, "axis": {"orient": "bottom", "values": [20, 10, 0, -10], "tickSize": 6, "labelPadding": 6, "domain": false, "grid": false, "title": null, "labelExpr": "datum.value < 0 ? '-' + (-datum.value) : '' + datum.value"}},
   "y": {"field": "y", "type": "quantitative", "scale": {"domain": [-50, 20], "reverse": true, "nice": false, "zero": false}, "axis": {"orient": "right", "values": [-40, -20, 0], "tickSize": 8, "labelPadding": 20, "labelAlign": "center", "domain": false, "grid": false, "title": null, "labelExpr": "datum.value < 0 ? '-' + (-datum.value) : '' + datum.value"}},
   "detail": {"field": "c", "type": "nominal"},
   "order": {"field": "o", "type": "quantitative"}}},
 {"data": {"values": [{}]}, "mark": {"type": "text", "text": "(c) x=60", "align": "left", "baseline": "middle", "fontSize": 16, "color": "black"},
  "encoding": {"x": {"datum": 31.9, "type": "quantitative", "scale": {"domain": [-15, 25], "reverse": true, "nice": false, "zero": false}}, "y": {"datum": -66.2, "type": "quantitative", "scale": {"domain": [-50, 20], "reverse": true, "nice": false, "zero": false}}}},
 {"data": {"values": [{}]}, "mark": {"type": "text", "text": "(i)", "align": "center", "baseline": "middle", "fontSize": 11, "fontWeight": "bold", "color": "black"},
  "encoding": {"x": {"datum": 29.3, "type": "quantitative", "scale": {"domain": [-15, 25], "reverse": true, "nice": false, "zero": false}}, "y": {"datum": 14.5, "type": "quantitative", "scale": {"domain": [-50, 20], "reverse": true, "nice": false, "zero": false}}}},
 {"data": {"values": [{}]}, "mark": {"type": "text", "text": "(ii)", "align": "center", "baseline": "middle", "fontSize": 11, "fontWeight": "bold", "color": "black"},
  "encoding": {"x": {"datum": 23.1, "type": "quantitative", "scale": {"domain": [-15, 25], "reverse": true, "nice": false, "zero": false}}, "y": {"datum": 14.5, "type": "quantitative", "scale": {"domain": [-50, 20], "reverse": true, "nice": false, "zero": false}}}}
]},
{"data": {"name": "tc"}, "transform": [{"window": [{"op": "row_number", "as": "o"}]}],
 "mark": {"type": "line", "interpolate": "catmull-rom", "color": "black", "strokeWidth": 1.1},
 "encoding": {"x": {"field": "x", "type": "quantitative", "scale": {"domain": [-15, 25], "reverse": true, "nice": false, "zero": false}, "axis": null}, "y": {"field": "v", "type": "quantitative", "scale": {"domain": [-387, -5.56], "nice": false, "zero": false}, "axis": null}, "order": {"field": "o", "type": "quantitative"}}},
{"data": {"name": "lc"}, "transform": [{"filter": "datum.s === 'i'"}, {"window": [{"op": "row_number", "as": "o"}]}],
 "mark": {"type": "line", "interpolate": "catmull-rom", "color": "black", "strokeWidth": 1.1},
 "encoding": {"x": {"field": "v", "type": "quantitative", "scale": {"domain": [-741.33, -51.33], "reverse": true, "nice": false, "zero": false}, "axis": null}, "y": {"field": "y", "type": "quantitative", "scale": {"domain": [-50, 20], "reverse": true, "nice": false, "zero": false}, "axis": null}, "order": {"field": "o", "type": "quantitative"}}},
{"data": {"name": "lc"}, "transform": [{"filter": "datum.s === 'ii'"}, {"window": [{"op": "row_number", "as": "o"}]}],
 "mark": {"type": "line", "interpolate": "catmull-rom", "color": "black", "strokeWidth": 1.1},
 "encoding": {"x": {"field": "v", "type": "quantitative", "scale": {"domain": [-838.8, -10.8], "reverse": true, "nice": false, "zero": false}, "axis": null}, "y": {"field": "y", "type": "quantitative", "scale": {"domain": [-50, 20], "reverse": true, "nice": false, "zero": false}, "axis": null}, "order": {"field": "o", "type": "quantitative"}}}
]
},
{
"width": 207, "height": 206,
"resolve": {"scale": {"x": "independent", "y": "independent"}, "axis": {"x": "independent", "y": "independent"}},
"layer": [
{"data": {"name": "cd"}, "mark": {"type": "point", "opacity": 0},
 "encoding": {
  "x": {"field": "x", "type": "quantitative", "scale": {"domain": [-15, 25], "reverse": true, "nice": false, "zero": false}, "axis": {"orient": "bottom", "values": [24,23,22,21,20,19,18,17,16,15,14,13,12,11,10,9,8,7,6,5,4,3,2,1,0,-1,-2,-3,-4,-5,-6,-7,-8,-9,-10,-11,-12,-13,-14], "tickSize": 3, "labels": false, "domain": false, "grid": false, "title": null}},
  "y": {"field": "y", "type": "quantitative", "scale": {"domain": [-50, 20], "reverse": true, "nice": false, "zero": false}, "axis": {"orient": "right", "values": [-30, -10, 10], "tickSize": 4, "labels": false, "domain": false, "grid": false, "title": null}}}},
{"layer": [
 {"data": {"name": "cd"}, "transform": [{"window": [{"op": "row_number", "as": "o"}]}],
  "mark": {"type": "line", "interpolate": "cardinal-closed", "color": "#222", "strokeWidth": 0.9},
  "encoding": {
   "x": {"field": "x", "type": "quantitative", "scale": {"domain": [-15, 25], "reverse": true, "nice": false, "zero": false}, "axis": {"orient": "bottom", "values": [20, 10, 0, -10], "tickSize": 6, "labelPadding": 6, "domain": false, "grid": false, "title": null, "labelExpr": "datum.value < 0 ? '-' + (-datum.value) : '' + datum.value"}},
   "y": {"field": "y", "type": "quantitative", "scale": {"domain": [-50, 20], "reverse": true, "nice": false, "zero": false}, "axis": {"orient": "right", "values": [-40, -20, 0], "tickSize": 8, "labelPadding": 20, "labelAlign": "center", "domain": false, "grid": false, "title": null, "labelExpr": "datum.value < 0 ? '-' + (-datum.value) : '' + datum.value"}},
   "detail": {"field": "c", "type": "nominal"},
   "order": {"field": "o", "type": "quantitative"}}},
 {"data": {"values": [{}]}, "mark": {"type": "text", "text": "(d) x= 70", "align": "left", "baseline": "middle", "fontSize": 16, "color": "black"},
  "encoding": {"x": {"datum": 30.5, "type": "quantitative", "scale": {"domain": [-15, 25], "reverse": true, "nice": false, "zero": false}}, "y": {"datum": -64.4, "type": "quantitative", "scale": {"domain": [-50, 20], "reverse": true, "nice": false, "zero": false}}}},
 {"data": {"values": [{}]}, "mark": {"type": "text", "text": "(i)", "align": "center", "baseline": "middle", "fontSize": 11, "fontWeight": "bold", "color": "black"},
  "encoding": {"x": {"datum": 29.3, "type": "quantitative", "scale": {"domain": [-15, 25], "reverse": true, "nice": false, "zero": false}}, "y": {"datum": 14.5, "type": "quantitative", "scale": {"domain": [-50, 20], "reverse": true, "nice": false, "zero": false}}}},
 {"data": {"values": [{}]}, "mark": {"type": "text", "text": "(ii)", "align": "center", "baseline": "middle", "fontSize": 11, "fontWeight": "bold", "color": "black"},
  "encoding": {"x": {"datum": 23.1, "type": "quantitative", "scale": {"domain": [-15, 25], "reverse": true, "nice": false, "zero": false}}, "y": {"datum": 14.5, "type": "quantitative", "scale": {"domain": [-50, 20], "reverse": true, "nice": false, "zero": false}}}}
]},
{"data": {"name": "td"}, "transform": [{"window": [{"op": "row_number", "as": "o"}]}],
 "mark": {"type": "line", "interpolate": "catmull-rom", "color": "black", "strokeWidth": 1.1},
 "encoding": {"x": {"field": "x", "type": "quantitative", "scale": {"domain": [-15, 25], "reverse": true, "nice": false, "zero": false}, "axis": null}, "y": {"field": "v", "type": "quantitative", "scale": {"domain": [-387, -5.56], "nice": false, "zero": false}, "axis": null}, "order": {"field": "o", "type": "quantitative"}}},
{"data": {"name": "ld"}, "transform": [{"filter": "datum.s === 'i'"}, {"window": [{"op": "row_number", "as": "o"}]}],
 "mark": {"type": "line", "interpolate": "catmull-rom", "color": "black", "strokeWidth": 1.1},
 "encoding": {"x": {"field": "v", "type": "quantitative", "scale": {"domain": [-745.67, -55.67], "reverse": true, "nice": false, "zero": false}, "axis": null}, "y": {"field": "y", "type": "quantitative", "scale": {"domain": [-50, 20], "reverse": true, "nice": false, "zero": false}, "axis": null}, "order": {"field": "o", "type": "quantitative"}}},
{"data": {"name": "ld"}, "transform": [{"filter": "datum.s === 'ii'"}, {"window": [{"op": "row_number", "as": "o"}]}],
 "mark": {"type": "line", "interpolate": "catmull-rom", "color": "black", "strokeWidth": 1.1},
 "encoding": {"x": {"field": "v", "type": "quantitative", "scale": {"domain": [-845.2, -17.2], "reverse": true, "nice": false, "zero": false}, "axis": null}, "y": {"field": "y", "type": "quantitative", "scale": {"domain": [-50, 20], "reverse": true, "nice": false, "zero": false}, "axis": null}, "order": {"field": "o", "type": "quantitative"}}}
]
}
]
}]
}
